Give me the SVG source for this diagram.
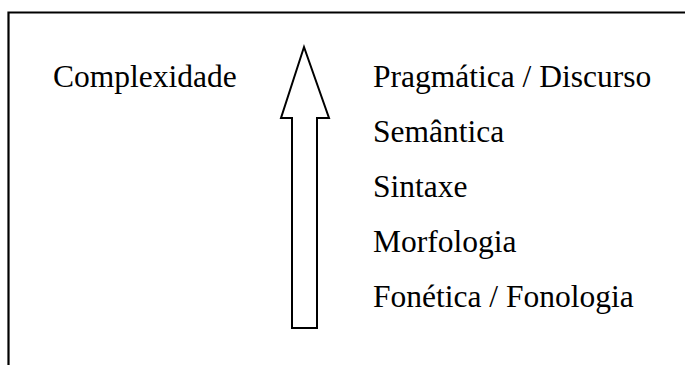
<svg xmlns="http://www.w3.org/2000/svg" width="685" height="365" viewBox="0 0 685 365">
  <style>
    .lbl { font-family: "Liberation Serif", "Times New Roman", serif; font-size: 31.5px; fill: #000; }
    .frame { fill: none; stroke: #000; stroke-width: 2.2; }
  </style>
  <rect width="685" height="365" fill="#fff"/>
  <!-- open frame: top and left edges -->
  <path class="frame" d="M685,12.5 H8.5 V365"/>
  <g id="complexidade">
    <text class="lbl" x="53" y="87" font-family="Liberation Serif, serif">Complexidade</text>
  </g>
  <g id="arrow">
    <path d="M304,47 L329,118 H317 V328 H292 V118 H281 Z" fill="#fff" stroke="#000" stroke-width="2" stroke-linejoin="miter"/>
  </g>
  <g id="levels" font-family="Liberation Serif, serif">
    <text class="lbl" x="373" y="87">Pragmática / Discurso</text>
    <text class="lbl" x="373" y="142">Semântica</text>
    <text class="lbl" x="373" y="197">Sintaxe</text>
    <text class="lbl" x="373" y="252">Morfologia</text>
    <text class="lbl" x="373" y="307">Fonética / Fonologia</text>
  </g>
</svg>
